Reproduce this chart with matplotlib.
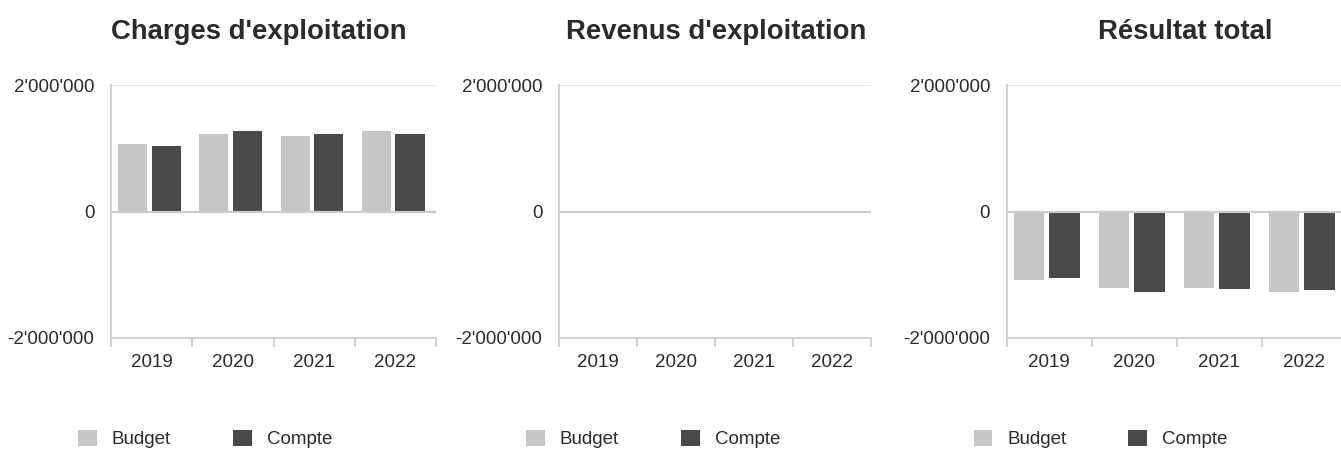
import matplotlib
matplotlib.use("Agg")
import matplotlib.pyplot as plt
from matplotlib.patches import Patch
import numpy as np

plt.rcParams['font.family'] = ['Liberation Sans', 'DejaVu Sans']

years = ['2019', '2020', '2021', '2022']
titles = ["Charges d'exploitation", "Revenus d'exploitation", "Résultat total"]
series_names = ['Budget', 'Compte']

charges_budget = [1061000, 1232000, 1200000, 1269000]
charges_compte = [1029000, 1269000, 1232000, 1232000]
revenus_budget = [0, 0, 0, 0]
revenus_compte = [0, 0, 0, 0]
resultat_budget = [-1077000, -1211000, -1211000, -1275000]
resultat_compte = [-1051000, -1280000, -1221000, -1248000]

yticks = [-2000000, 0, 2000000]

panels = [
    (charges_budget, charges_compte),
    (revenus_budget, revenus_compte),
    (resultat_budget, resultat_compte),
]

W, H = 1341, 453
fig = plt.figure(figsize=(W / 100, H / 100), dpi=100)

c_budget = '#c6c6c6'
c_compte = '#494949'
txt = '#2b2b2b'
axcol = '#cccccc'

ax_lefts = [111, 559, 1006.7]
ax_widths = [325, 312, 340]
top_px, bot_px = 85, 338
title_x = [258.5, 716, 1185]

def fmt(v):
    s = f"{abs(int(v)):,}".replace(',', "'")
    return ('-' if v < 0 else '') + s

for i, (b, c) in enumerate(panels):
    ax = fig.add_axes([ax_lefts[i] / W, 1 - bot_px / H, ax_widths[i] / W, (bot_px - top_px) / H])
    x = np.arange(len(years))
    bw = 0.357
    ax.bar(x - 0.234, b, width=bw, color=c_budget, zorder=2, label=series_names[0])
    ax.bar(x + 0.18, c, width=bw, color=c_compte, zorder=2, label=series_names[1])
    ax.set_xlim(-0.5, len(years) - 0.5)
    ax.set_ylim(-2000000, 2000000)
    ax.axhline(2000000, color='#e4e4e4', lw=1.2, zorder=1)
    ax.axhline(0, color=axcol, lw=1.6, zorder=3)
    for s in ['top', 'right']:
        ax.spines[s].set_visible(False)
    for s in ['left', 'bottom']:
        ax.spines[s].set_color(axcol)
        ax.spines[s].set_linewidth(1.2)
    ax.set_yticks(yticks)
    ax.set_yticklabels([fmt(v) for v in yticks])
    ax.tick_params(axis='y', length=0, pad=12, labelsize=13.5, labelcolor=txt)
    ax.set_xticks(np.arange(-0.5, len(years), 1.0))
    ax.set_xticklabels([])
    ax.set_xticks(x, minor=True)
    ax.set_xticklabels(years, minor=True)
    ax.tick_params(axis='x', which='major', length=6.5, width=1.2, color=axcol)
    ax.tick_params(axis='x', which='minor', length=0, pad=11.5, labelsize=13.5, labelcolor=txt)
    fig.text(title_x[i] / W, 1 - 39 / H, titles[i], ha='center', va='baseline',
             fontsize=19.8, fontweight='bold', color=txt)
    handles = [Patch(facecolor=c_budget, edgecolor='none'), Patch(facecolor=c_compte, edgecolor='none')]
    fig.legend(handles, series_names, loc='center left',
               bbox_to_anchor=((ax_lefts[i] - 33) / W, 1 - 439 / H),
               ncol=2, frameon=False, fontsize=13.5, labelcolor=txt,
               handlelength=1.0, handleheight=1.0, handletextpad=0.8,
               columnspacing=3.3, borderpad=0, borderaxespad=0)

fig.savefig('out.png', dpi=100)
